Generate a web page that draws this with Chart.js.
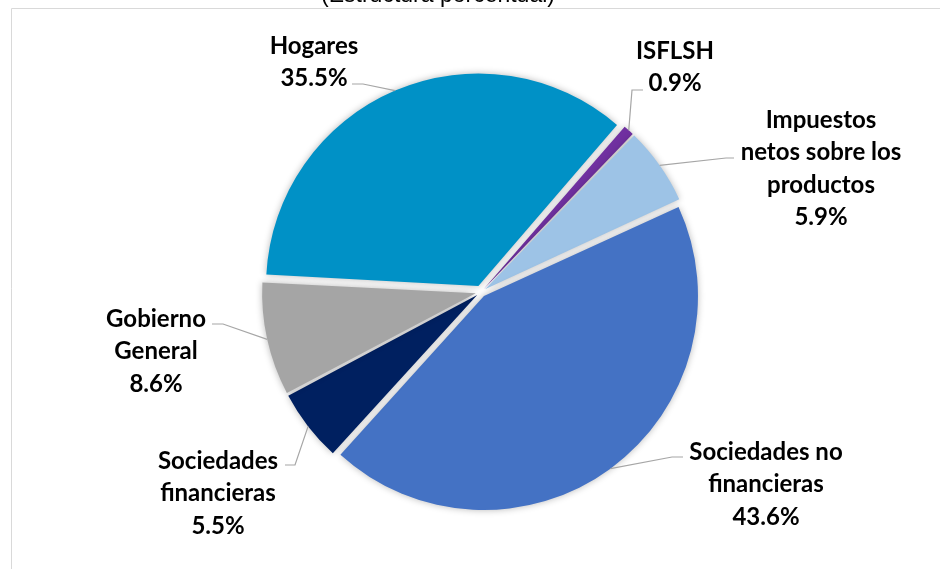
<!DOCTYPE html>
<html>
<head>
<meta charset="utf-8">
<script src="https://cdn.jsdelivr.net/npm/chart.js@4.4.1/dist/chart.umd.min.js"></script>
<style>
  html, body { margin: 0; padding: 0; background: #ffffff; }
  #wrap { width: 940px; height: 569px; position: relative; }
</style>
</head>
<body>
<div id="wrap"><canvas id="c"></canvas></div>
<script>
// ---- data ----
const titleText = '(Estructura porcentual)';
const categories = ['Hogares', 'ISFLSH', 'Impuestos netos sobre los productos', 'Sociedades no financieras', 'Sociedades financieras', 'Gobierno General'];
const categoryLines = [['Hogares'], ['ISFLSH'], ['Impuestos', 'netos sobre los', 'productos'], ['Sociedades no', 'financieras'], ['Sociedades', 'financieras'], ['Gobierno', 'General']];
const shares = [35.5, 0.9, 5.9, 43.6, 5.5, 8.6];

// ---- style / layout ----
const sliceColors = ['#0091C6', '#7030A0', '#9DC3E6', '#4472C4', '#002060', '#A5A5A5'];
const EXPLODE = 8; // px each slice moves outward
const labelFont = 'bold 24px Lato';
const lineH = 32.5;
// per-label text anchor (centre x, cap-middle y of first line) and leader elbow/end
const labelLayout = [
  { x: 314, y: 45, elbow: [363, 84], end: [352, 84] },
  { x: 675, y: 50, elbow: [632, 90], end: [643, 90] },
  { x: 821, y: 119, elbow: [726, 158], end: [734, 158] },
  { x: 766, y: 451, elbow: [672, 457], end: [683, 457] },
  { x: 218, y: 460, elbow: [295, 465], end: [285, 465] },
  { x: 156, y: 318, elbow: [223, 324], end: [212, 324] }
];

function arcShift(arc) {
  const circ = arc.endAngle - arc.startAngle;
  const off = (arc.options.offset || 0) / 4;
  const fix = 1 - Math.sin(Math.min(Math.PI, circ));
  return off * (1 + fix);
}

const framePlugin = {
  id: 'frame',
  beforeDraw(chart) {
    const ctx = chart.ctx;
    ctx.save();
    ctx.strokeStyle = '#d9d9d9';
    ctx.lineWidth = 1;
    ctx.beginPath();
    ctx.moveTo(11.5, 569);
    ctx.lineTo(11.5, 8.5);
    ctx.lineTo(940, 8.5);
    ctx.stroke();
    ctx.fillStyle = '#000000';
    ctx.font = '23px "Liberation Sans", Arial, sans-serif';
    ctx.textAlign = 'center';
    ctx.textBaseline = 'alphabetic';
    ctx.fillText(titleText, 438, 2);
    ctx.restore();
  }
};

const shadowPlugin = {
  id: 'shadow',
  beforeDatasetsDraw(chart) {
    const ctx = chart.ctx;
    ctx.save();
    ctx.shadowColor = 'rgba(0,0,0,0.28)';
    ctx.shadowBlur = 7;
    ctx.shadowOffsetX = 0;
    ctx.shadowOffsetY = 0;
  },
  afterDatasetsDraw(chart) {
    chart.ctx.restore();
  }
};

const labelPlugin = {
  id: 'pieLabels',
  afterDatasetsDraw(chart) {
    const ctx = chart.ctx;
    const meta = chart.getDatasetMeta(0);
    ctx.save();
    meta.data.forEach((arc, i) => {
      const mid = (arc.startAngle + arc.endAngle) / 2;
      const d = arcShift(arc) + arc.outerRadius;
      const px = arc.x + Math.cos(mid) * d;
      const py = arc.y + Math.sin(mid) * d;
      const L = labelLayout[i];
      ctx.strokeStyle = '#a6a6a6';
      ctx.lineWidth = 1.2;
      ctx.beginPath();
      ctx.moveTo(px, py);
      ctx.lineTo(L.elbow[0], L.elbow[1]);
      ctx.lineTo(L.end[0], L.end[1]);
      ctx.stroke();
      const lines = categoryLines[i].concat([shares[i].toFixed(1) + '%']);
      ctx.fillStyle = '#000000';
      ctx.font = labelFont;
      ctx.textAlign = 'center';
      ctx.textBaseline = 'alphabetic';
      lines.forEach((t, k) => {
        ctx.fillText(t, L.x, L.y + k * lineH + 8.5);
      });
    });
    ctx.restore();
  }
};

new Chart(document.getElementById('c'), {
  type: 'pie',
  data: {
    labels: categories,
    datasets: [{
      data: shares,
      backgroundColor: sliceColors,
      borderWidth: 0,
      offset: (c) => {
        const total = shares.reduce((a, b) => a + b, 0);
        const circ = c.raw / total * 2 * Math.PI;
        return EXPLODE * 4 / (2 - Math.sin(Math.min(Math.PI, circ)));
      }
    }]
  },
  options: {
    responsive: true,
    maintainAspectRatio: false,
    animation: false,
    events: [],
    rotation: -87,
    radius: 211,
    layout: { padding: { left: 22, top: 15, right: 0, bottom: 0 } },
    plugins: {
      legend: { display: false },
      title: { display: false },
      tooltip: { enabled: false }
    }
  },
  plugins: [framePlugin, shadowPlugin, labelPlugin]
});
</script>
</body>
</html>
